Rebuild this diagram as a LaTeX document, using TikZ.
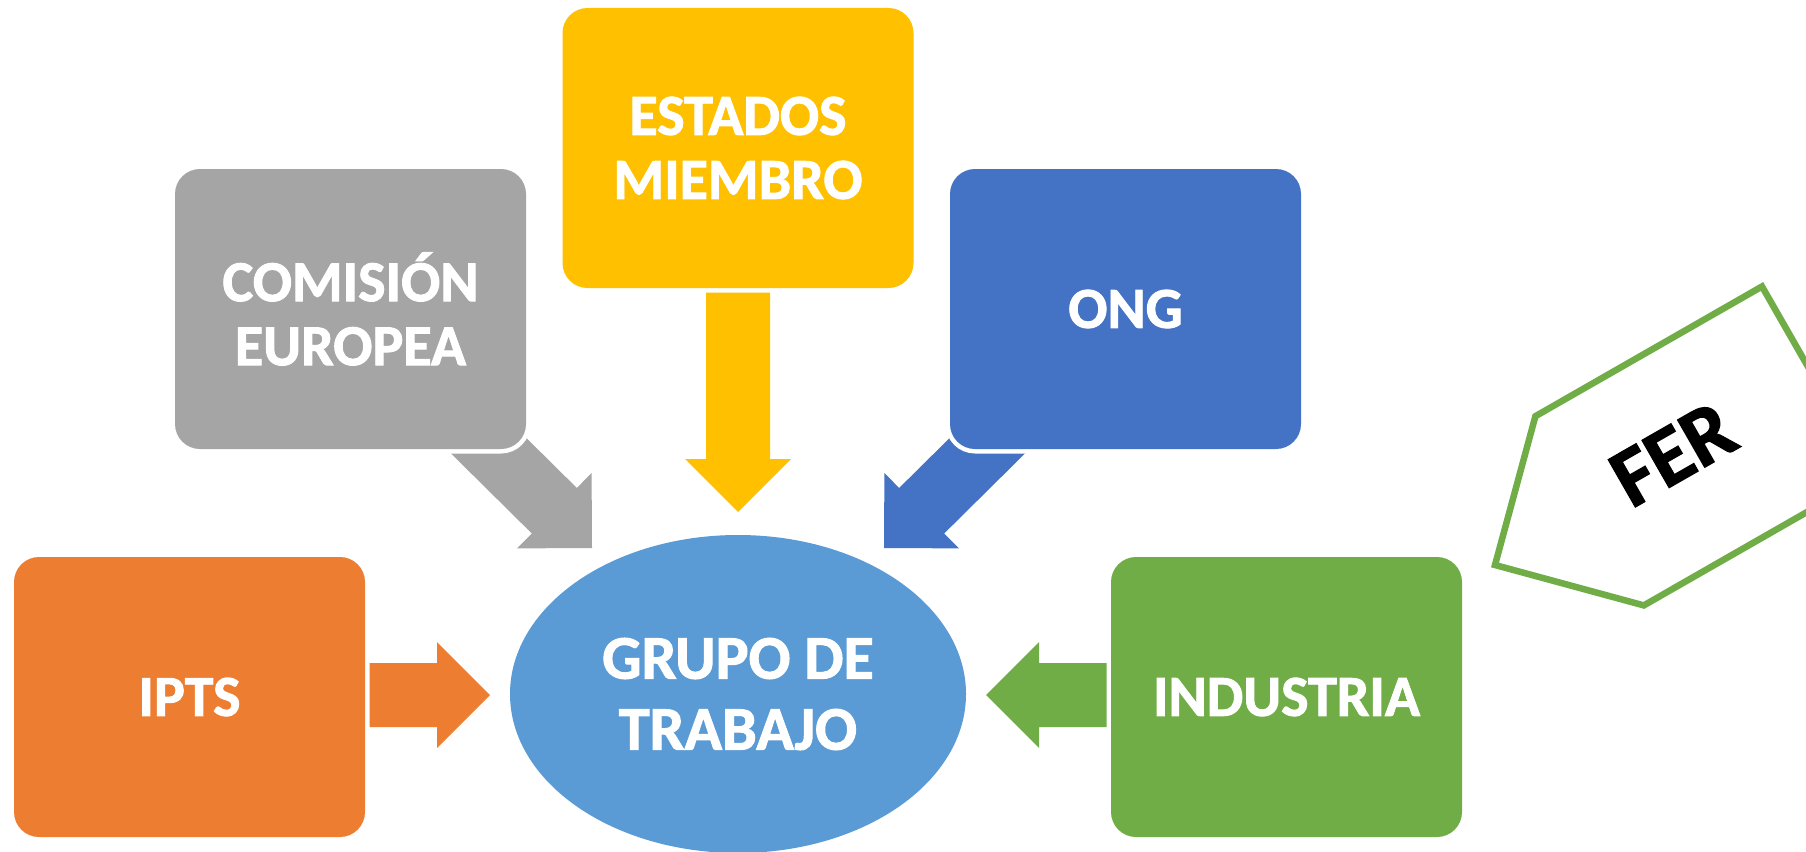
\documentclass[tikz,border=0pt]{standalone}
\usepackage{fontspec}
\setmainfont{Carlito}[BoldFeatures={FakeBold=1.6}]
\usetikzlibrary{shapes.geometric,calc,backgrounds}
\definecolor{cgray}{HTML}{A5A5A5}
\definecolor{cyel}{HTML}{FFC000}
\definecolor{cblue}{HTML}{4472C4}
\definecolor{corange}{HTML}{ED7D31}
\definecolor{cgreen}{HTML}{70AD47}
\definecolor{cell}{HTML}{5B9BD5}
\tikzset{
  box/.style={rectangle, rounded corners=25pt, minimum width=351pt, minimum height=280pt,
    inner sep=0pt, text=white, align=center,
    font=\bfseries\fontsize{58}{64}\selectfont,
    preaction={draw=white, line width=9pt}},
  hub/.style={ellipse, minimum width=456pt, minimum height=318pt, inner sep=0pt,
    text=white, align=center, font=\bfseries\fontsize{62}{71}\selectfont},
  tag/.style={draw=cgreen, line width=6.5pt, line join=miter},
}
% block arrow: colour, tail point, tip point
\newcommand\blockarr[3]{%
  \fill[#1] let \p1=#2, \p2=#3,
    \n1={atan2(\y2-\y1,\x2-\x1)}, \n2={veclen(\x2-\x1,\y2-\y1)} in
    (\p1) ++(\n1+90:32pt) -- ++(\n1:{\n2-53pt}) -- ++(\n1+90:21pt) -- (\p2)
    -- ($(\p2)+(\n1+180:53pt)+(\n1-90:53pt)$) -- ++(\n1+90:21pt)
    -- ++(\n1+180:{\n2-53pt}) -- cycle;}
\begin{document}
\begin{tikzpicture}[x=1pt,y=-1pt]
\useasboundingbox (0,0) rectangle (1806,851);
\clip (0,0) rectangle (1806,851);

% boxes
\node[box, fill=cyel]    (yel)  at (738,148)    {ESTADOS\\MIEMBRO};
\node[box, fill=cgray]   (com)  at (350.5,309)  {COMISIÓN\\EUROPEA};
\node[box, fill=cblue]   (ong)  at (1125.5,309) {ONG};
\node[box, fill=corange] (ipts) at (189.5,697)  {IPTS};
\node[box, fill=cgreen]  (ind)  at (1286.5,697) {INDUSTRIA};
\node[hub, fill=cell]    (grupo) at (738,694)   {GRUPO DE\\TRABAJO};

% arrow tips
\coordinate (tipY) at (738,512);
\coordinate (tipG) at (592,548);
\coordinate (tipB) at (884,548);
\coordinate (tipO) at (490,695);
\coordinate (tipI) at (986,695);

\begin{pgfonlayer}{background}
  \fill[white] (0,0) rectangle (1806,851);
  \blockarr{cyel}{(yel.center)}{(tipY)}
  \blockarr{cgray}{(com.center)}{(tipG)}
  \blockarr{cblue}{(ong.center)}{(tipB)}
  \blockarr{corange}{(ipts.center |- tipO)}{(tipO)}
  \blockarr{cgreen}{(ind.center |- tipI)}{(tipI)}
\end{pgfonlayer}

% FER tag
\coordinate (fa) at (1762,286.5);
\coordinate (fb) at (1535.4,416.2);
\coordinate (fc) at (1495,565);
\coordinate (fd) at (1643.8,605.4);
\coordinate (fe) at (1870.4,475.7);
\draw[tag] (fa) -- (fb) -- (fc) -- (fd) -- (fe) -- cycle;
\node[rotate=29.8, font=\bfseries\fontsize{84}{90}\selectfont, text=black] (fer) at (1673,454) {FER};
\end{tikzpicture}
\end{document}
